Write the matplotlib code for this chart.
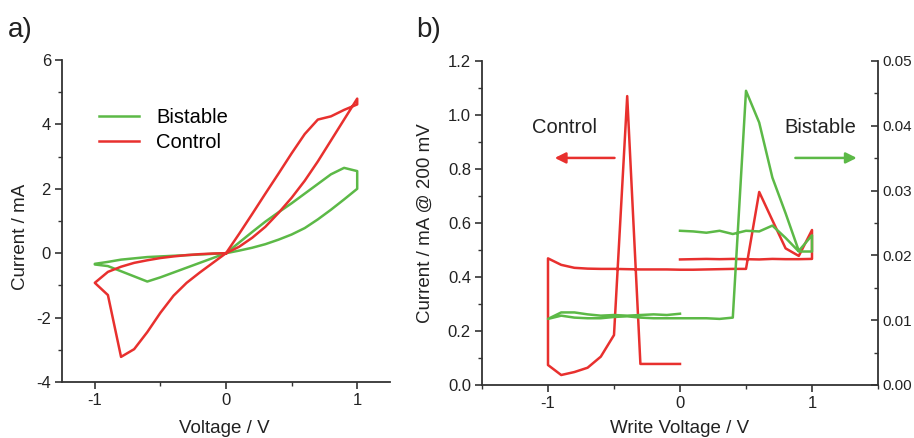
import matplotlib
matplotlib.use("Agg")
import matplotlib.pyplot as plt
from matplotlib.ticker import MultipleLocator, FormatStrFormatter

plt.rcParams['font.family'] = ['Liberation Sans', 'DejaVu Sans']
plt.rcParams['axes.unicode_minus'] = False

RED = '#e8302e'
GREEN = '#5cb947'
AXC = '#333333'

# ---------------- Panel a data: I-V loops ----------------
bistable_v = [0, 0.1, 0.2, 0.3, 0.4, 0.5, 0.6, 0.7, 0.8, 0.9, 1.0,
              1.0, 0.9, 0.8, 0.7, 0.6, 0.5, 0.4, 0.3, 0.2, 0.1, 0,
              -0.1, -0.2, -0.3, -0.4, -0.5, -0.6, -0.7, -0.8, -0.9, -1.0,
              -1.0, -0.9, -0.8, -0.7, -0.6, -0.5, -0.4, -0.3, -0.2, -0.1, 0]
bistable_i = [0, 0.08, 0.17, 0.28, 0.42, 0.58, 0.78, 1.05, 1.35, 1.67, 2.0,
              2.55, 2.65, 2.45, 2.15, 1.85, 1.55, 1.27, 0.98, 0.66, 0.33, 0,
              -0.15, -0.3, -0.45, -0.6, -0.75, -0.88, -0.72, -0.56, -0.40, -0.35,
              -0.33, -0.27, -0.2, -0.16, -0.12, -0.1, -0.08, -0.06, -0.04, -0.02, 0]

control_v = [0, 0.1, 0.2, 0.3, 0.4, 0.5, 0.6, 0.7, 0.8, 0.9, 1.0, 1.0,
             0.9, 0.8, 0.7, 0.6, 0.5, 0.4, 0.3, 0.2, 0.1, 0,
             -0.1, -0.2, -0.3, -0.4, -0.5, -0.6, -0.7, -0.8, -0.9, -1.0,
             -0.9, -0.8, -0.7, -0.6, -0.5, -0.4, -0.3, -0.2, -0.1, 0]
control_i = [0, 0.6, 1.22, 1.85, 2.47, 3.1, 3.7, 4.15, 4.25, 4.45, 4.62, 4.8,
             4.15, 3.5, 2.85, 2.25, 1.72, 1.25, 0.82, 0.48, 0.2, 0,
             -0.3, -0.6, -0.92, -1.32, -1.85, -2.45, -2.98, -3.22, -1.3, -0.92,
             -0.58, -0.42, -0.3, -0.22, -0.15, -0.1, -0.06, -0.03, -0.01, 0]

# ---------------- Panel b data: read current vs write voltage ----------------
write_v_control = [0, 0.1, 0.2, 0.3, 0.4, 0.5, 0.6, 0.7, 0.8, 0.9, 1.0, 1.0,
                   0.9, 0.8, 0.7, 0.6, 0.5, 0.4, 0.3, 0.2, 0.1, 0,
                   -0.1, -0.2, -0.3, -0.4, -0.5, -0.6, -0.7, -0.8, -0.9, -1.0, -1.0,
                   -0.9, -0.8, -0.7, -0.6, -0.5, -0.4, -0.3, -0.2, -0.1, 0]
read_i_control = [0.465, 0.466, 0.467, 0.466, 0.467, 0.466, 0.465, 0.467, 0.466, 0.466, 0.467, 0.574,
                  0.478, 0.506, 0.61, 0.715, 0.43, 0.43, 0.429, 0.428, 0.427, 0.427,
                  0.428, 0.428, 0.428, 0.429, 0.43, 0.43, 0.431, 0.434, 0.445, 0.469, 0.074,
                  0.037, 0.048, 0.064, 0.105, 0.185, 1.07, 0.078, 0.078, 0.078, 0.078]

write_v_bistable = [0, -0.1, -0.2, -0.3, -0.4, -0.5, -0.6, -0.7, -0.8, -0.9, -1.0,
                    -0.9, -0.8, -0.7, -0.6, -0.5, -0.4, -0.3, -0.2, -0.1, 0, 0.1, 0.2, 0.3, 0.4,
                    0.5, 0.6, 0.7, 0.8, 0.9, 1.0, 1.0, 0.9,
                    0.8, 0.7, 0.6, 0.5, 0.4, 0.3, 0.2, 0.1, 0]
read_i_bistable = [0.0110, 0.0108, 0.0109, 0.0108, 0.0107, 0.0108, 0.0107, 0.0109, 0.0112, 0.0112, 0.0102,
                   0.0107, 0.0104, 0.0103, 0.0103, 0.0105, 0.0106, 0.0104, 0.0103, 0.0103, 0.0103, 0.0103, 0.0103, 0.0102, 0.0104,
                   0.0454, 0.0405, 0.0320, 0.0265, 0.0207, 0.0231, 0.0206, 0.0206,
                   0.0227, 0.0246, 0.0237, 0.0238, 0.0233, 0.0238, 0.0235, 0.0237, 0.0238]

a_xticks = [-1, 0, 1]
a_yticks = [-4, -2, 0, 2, 4, 6]
b_xticks = [-1, 0, 1]
b_yticks = [0.0, 0.2, 0.4, 0.6, 0.8, 1.0, 1.2]
b_y2ticks = [0.00, 0.01, 0.02, 0.03, 0.04, 0.05]

fig = plt.figure(figsize=(9.14, 4.38), dpi=100)

TICK_FS = 12
LABEL_FS = 13.5


def style_axis(ax):
    for s in ['top', 'right']:
        ax.spines[s].set_visible(False)
    for s in ['left', 'bottom']:
        ax.spines[s].set_color(AXC)
        ax.spines[s].set_linewidth(1.3)
    ax.tick_params(which='major', length=5, width=1.2, color=AXC, labelsize=TICK_FS,
                   labelcolor='#222222', pad=3)
    ax.tick_params(which='minor', length=3, width=1.0, color=AXC)


# ---------------- Panel a ----------------
axa = fig.add_axes([62 / 914, 1 - 382 / 438, 328 / 914, 322 / 438])
axa.plot(bistable_v, bistable_i, color=GREEN, lw=1.8, label='Bistable')
axa.plot(control_v, control_i, color=RED, lw=1.8, label='Control')
axa.set_xlim(-1.25, 1.25)
axa.set_ylim(-4, 6)
axa.set_xticks(a_xticks)
axa.set_yticks(a_yticks)
axa.xaxis.set_minor_locator(MultipleLocator(0.5))
axa.yaxis.set_minor_locator(MultipleLocator(1))
style_axis(axa)
axa.set_xlabel('Voltage / V', fontsize=LABEL_FS, color='#222222')
axa.set_ylabel('Current / mA', fontsize=LABEL_FS, color='#222222')
axa.xaxis.set_label_coords(0.494, -0.143)
axa.yaxis.set_label_coords(-0.128, 0.45)
axa.xaxis.label.set_va('center')
axa.yaxis.label.set_va('center')
axa.legend(frameon=False, loc='upper left', bbox_to_anchor=(0.112, 0.85),
           fontsize=14.5, handlelength=2.0, handletextpad=0.85, labelspacing=0.3,
           borderpad=0, borderaxespad=0)

# ---------------- Panel b ----------------
axb = fig.add_axes([482 / 914, 1 - 385 / 438, 396 / 914, 324 / 438])
axb.plot(write_v_control, read_i_control, color=RED, lw=1.8)
axb.set_xlim(-1.5, 1.5)
axb.set_ylim(0, 1.2)
axb.set_xticks(b_xticks)
axb.set_yticks(b_yticks)
axb.xaxis.set_minor_locator(MultipleLocator(0.5))
axb.yaxis.set_minor_locator(MultipleLocator(0.1))
axb.yaxis.set_major_formatter(FormatStrFormatter('%.1f'))
style_axis(axb)
axb.set_xlabel('Write Voltage / V', fontsize=LABEL_FS, color='#222222')
axb.set_ylabel('Current / mA @ 200 mV', fontsize=LABEL_FS, color='#222222')
axb.xaxis.set_label_coords(0.5, -0.133)
axb.yaxis.set_label_coords(-0.144, 0.5)
axb.xaxis.label.set_va('center')
axb.yaxis.label.set_va('center')

axb2 = axb.twinx()
axb2.plot(write_v_bistable, read_i_bistable, color=GREEN, lw=1.8)
axb2.set_ylim(0, 0.05)
axb2.set_yticks(b_y2ticks)
axb2.yaxis.set_minor_locator(MultipleLocator(0.005))
axb2.yaxis.set_major_formatter(FormatStrFormatter('%.2f'))
for s in ['top', 'left', 'bottom']:
    axb2.spines[s].set_visible(False)
axb2.spines['right'].set_color(AXC)
axb2.spines['right'].set_linewidth(1.3)
axb2.tick_params(which='major', direction='in', length=5, width=1.2, color=AXC,
                 labelsize=TICK_FS - 1, labelcolor='#222222', pad=3)
axb2.tick_params(which='minor', direction='in', length=3, width=1.0, color=AXC)

axb.text(-0.875, 0.952, 'Control', fontsize=14.5, ha='center', va='center', color='#222222')
axb.text(1.064, 0.952, 'Bistable', fontsize=14.5, ha='center', va='center', color='#222222')
axb.annotate('', xy=(-0.97, 0.841), xytext=(-0.475, 0.841),
             arrowprops=dict(arrowstyle='-|>', color=RED, lw=1.8, mutation_scale=16))
axb.annotate('', xy=(1.36, 0.841), xytext=(0.853, 0.841),
             arrowprops=dict(arrowstyle='-|>', color=GREEN, lw=1.8, mutation_scale=16),
             annotation_clip=False)

fig.text(8 / 914, 1 - 30 / 438, 'a)', fontsize=20, va='center', ha='left', color='#222222')
fig.text(416 / 914, 1 - 30 / 438, 'b)', fontsize=20, va='center', ha='left', color='#222222')

fig.savefig('out.png', dpi=100)
